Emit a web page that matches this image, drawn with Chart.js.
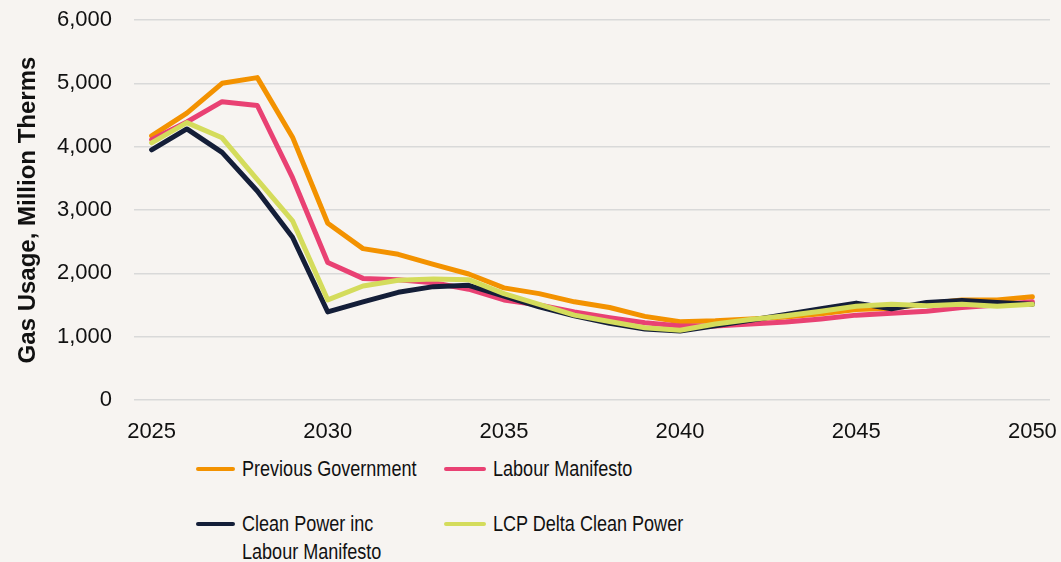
<!DOCTYPE html>
<html lang="en">
<head>
  <meta charset="UTF-8" />
  <title>Gas Usage</title>
  <script src="https://cdn.jsdelivr.net/npm/chart.js"></script>
  <style>
    html, body {
      margin: 0;
      padding: 0;
      background: #f7f4f1;
      width: 1061px;
      height: 562px;
      overflow: hidden;
      font-family: "Liberation Sans", Arial, sans-serif;
    }
    .chart-box {
      position: absolute;
      left: 0;
      top: 0;
      width: 1061px;
      height: 450px;
    }
    .legend-item {
      position: absolute;
      font-size: 22px;
      line-height: 28px;
      color: #111;
      white-space: nowrap;
    }
    .legend-item .swatch {
      position: absolute;
      left: 0;
      top: 12px;
      height: 4px;
      border-radius: 2px;
    }
    /* the original legend uses a narrow face */
    .legend-item .txt {
      display: inline-block;
      transform: scaleX(0.82);
      transform-origin: left top;
    }
  </style>
</head>
<body>
  <div class="chart-box"><canvas id="gasChart"></canvas></div>
  <div id="legend"></div>

<script>
  const years = [2025, 2026, 2027, 2028, 2029, 2030, 2031, 2032, 2033, 2034, 2035, 2036, 2037,
                 2038, 2039, 2040, 2041, 2042, 2043, 2044, 2045, 2046, 2047, 2048, 2049, 2050];

  const previousGovernment = [4170, 4530, 5000, 5090, 4150, 2790, 2390, 2300, 2140, 1990, 1770, 1680, 1550,
                              1460, 1320, 1235, 1250, 1280, 1310, 1360, 1430, 1450, 1520, 1580, 1580, 1630];
  const labourManifesto = [4110, 4390, 4710, 4650, 3510, 2170, 1920, 1900, 1850, 1750, 1580, 1500, 1390,
                           1300, 1220, 1170, 1170, 1200, 1230, 1280, 1340, 1370, 1400, 1460, 1500, 1550];
  const cleanPowerLabour = [3950, 4280, 3910, 3300, 2570, 1390, 1550, 1700, 1790, 1810, 1640, 1470, 1330,
                            1210, 1120, 1090, 1170, 1260, 1350, 1440, 1530, 1440, 1540, 1570, 1540, 1510];
  const lcpDeltaCleanPower = [4060, 4380, 4140, 3480, 2830, 1580, 1800, 1890, 1910, 1900, 1680, 1510, 1340,
                              1240, 1140, 1100, 1200, 1270, 1330, 1400, 1480, 1510, 1490, 1510, 1480, 1510];

  const seriesNames = ["Previous Government", "Labour Manifesto", "Clean Power inc\nLabour Manifesto", "LCP Delta Clean Power"];
  const seriesColors = ["#f39200", "#e94173", "#141e38", "#d4dc5c"];
  const seriesData = [previousGovernment, labourManifesto, cleanPowerLabour, lcpDeltaCleanPower];

  const yTicks = [0, 1000, 2000, 3000, 4000, 5000, 6000];
  const yTitle = "Gas Usage, Million Therms";

  const tickFont = { family: "'Liberation Sans', Arial, sans-serif", size: 22 };

  new Chart(document.getElementById("gasChart"), {
    type: 'line',
    data: {
      labels: years,
      datasets: seriesData.map((d, i) => ({
        label: seriesNames[i],
        data: d,
        borderColor: seriesColors[i],
        backgroundColor: seriesColors[i],
        borderWidth: 5,
        pointRadius: 0,
        tension: 0,
        borderCapStyle: 'round',
        borderJoinStyle: 'round',
        order: 4 - i
      }))
    },
    options: {
      responsive: true,
      maintainAspectRatio: false,
      animation: false,
      layout: { padding: { left: 0, top: 20, right: 11, bottom: 0 } },
      plugins: {
        legend: { display: false },
        tooltip: { enabled: false }
      },
      scales: {
        x: {
          type: 'category',
          offset: true,
          grid: { display: false, drawTicks: false },
          border: { display: false },
          ticks: {
            autoSkip: false,
            maxRotation: 0,
            padding: 19,
            color: '#111',
            font: tickFont,
            callback: function (value, index) {
              const y = years[index];
              return y % 5 === 0 ? String(y) : '';
            }
          },
          afterFit: scale => {
            scale.height = 50;
            scale.paddingLeft = 0;
            scale.paddingRight = 0;
          }
        },
        y: {
          min: 0,
          max: 6000,
          afterBuildTicks: scale => { scale.ticks = yTicks.map(v => ({ value: v })); },
          grid: { color: '#d9d9d9', lineWidth: 1.5, drawTicks: false },
          border: { display: false },
          ticks: {
            padding: 22,
            color: '#111',
            font: tickFont,
            callback: v => v.toLocaleString('en-US')
          },
          title: {
            display: true,
            text: yTitle,
            color: '#111',
            font: { family: "'Liberation Sans', Arial, sans-serif", size: 24, weight: 'bold' },
            padding: { top: 14, bottom: 0 }
          },
          afterFit: scale => {
            scale.width = 134;
            scale.paddingTop = 0;
            scale.paddingBottom = 0;
          }
        }
      }
    }
  });

  // legend laid out in two columns like the original
  const legendPos = [
    { left: 196, top: 455, line: 39 },
    { left: 444, top: 455, line: 42 },
    { left: 196, top: 510, line: 39 },
    { left: 444, top: 510, line: 42 }
  ];
  const legendBox = document.getElementById("legend");
  seriesNames.forEach((name, i) => {
    const p = legendPos[i];
    const item = document.createElement("div");
    item.className = "legend-item";
    item.style.left = p.left + "px";
    item.style.top = p.top + "px";
    item.style.paddingLeft = (p.line + 7) + "px";
    item.innerHTML = `<span class="swatch" style="width:${p.line}px;background:${seriesColors[i]}"></span>` +
      `<span class="txt">${name.split("\n").join("<br>")}</span>`;
    legendBox.appendChild(item);
  });
</script>
</body>
</html>
